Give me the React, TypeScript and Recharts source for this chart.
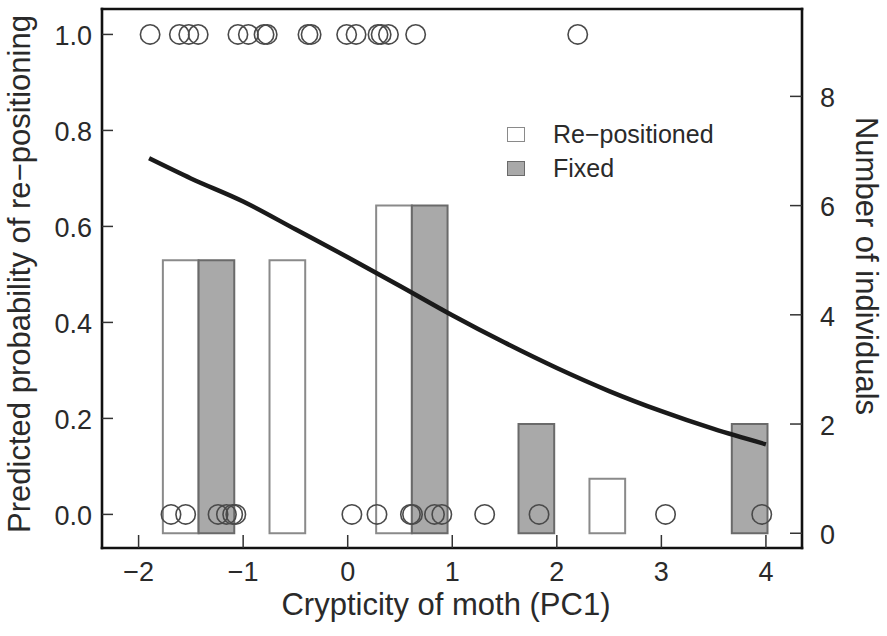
import React from 'react';
import { ComposedChart, XAxis, YAxis, Bar, Line, Scatter, Legend } from 'recharts';

// ---- data ----
const binCenters = [-1.43, -0.41, 0.61, 1.63, 2.65, 3.67];
const repositionedCounts = [5, 5, 6, 0, 1, 0];
const fixedCounts = [5, 0, 6, 2, 0, 2];

// individual moths: PC1 of re-positioned (probability 1) and fixed (probability 0)
const repositionedPC1 = [-1.89, -1.61, -1.52, -1.43, -1.05, -0.95, -0.8, -0.77, -0.38, -0.35, -0.01, 0.08, 0.29, 0.32, 0.39, 0.65, 2.2];
const fixedPC1 = [-1.69, -1.55, -1.24, -1.16, -1.1, -1.07, 0.04, 0.28, 0.6, 0.62, 0.83, 0.9, 1.31, 1.83, 3.04, 3.96];

// fitted logistic curve
const curveX = [-1.9, -1.5, -1.0, -0.5, 0, 0.5, 1.0, 1.5, 2.0, 2.5, 3.0, 3.5, 4.0];
const curveP = [0.742, 0.7, 0.652, 0.594, 0.536, 0.476, 0.415, 0.358, 0.305, 0.257, 0.215, 0.178, 0.146];

const xTicks = [-2, -1, 0, 1, 2, 3, 4];
const probTicks = [0, 0.2, 0.4, 0.6, 0.8, 1.0];
const countTicks = [0, 2, 4, 6, 8];

const seriesNames = ['Re\u2212positioned', 'Fixed'];
const xTitle = 'Crypticity of moth (PC1)';
const leftTitle = 'Predicted probability of re\u2212positioning';
const rightTitle = 'Number of individuals';

// ---- tables built from the arrays ----
const binData = binCenters.map((x, i) => ({ x, re: repositionedCounts[i], fixed: fixedCounts[i] }));
const topPoints = repositionedPC1.map((x) => ({ x, y: 1 }));
const bottomPoints = fixedPC1.map((x) => ({ x, y: 0 }));
const curveData = curveX.map((x, i) => ({ x, p: curveP[i] }));

const FONT = '"Liberation Sans", Arial, Helvetica, sans-serif';
const TEXT = '#2a2a2a';
const FRAME = '#111';
const TICK_FS = 27;
const TITLE_FS = 31;

const xDomain: [number, number] = [-2.35, 4.345];
const probDomain: [number, number] = [-0.07, 1.053];
const countDomain: [number, number] = [-0.27, 9.6];

const fmtX = (v: number) => (v < 0 ? '\u2212' + Math.abs(v) : String(v));

const LeftTick = (props: any) => {
  const { x, y, payload } = props;
  return (
    <g>
      <line x1={x + 10} x2={x + 21} y1={y} y2={y} stroke="#333" strokeWidth={1.5} />
      <text x={x} y={y} dy="0.4em" textAnchor="end" fontSize={TICK_FS} fill={TEXT} fontFamily={FONT}>
        {Number(payload.value).toFixed(1)}
      </text>
    </g>
  );
};

const RightTick = (props: any) => {
  const { x, y, payload } = props;
  return (
    <g>
      <line x1={x - 18} x2={x - 30} y1={y} y2={y} stroke="#333" strokeWidth={1.5} />
      <text x={x} y={y} dy="0.4em" textAnchor="start" fontSize={TICK_FS} fill={TEXT} fontFamily={FONT}>
        {String(payload.value)}
      </text>
    </g>
  );
};

const BottomTick = (props: any) => {
  const { x, y, payload } = props;
  return (
    <g>
      <line x1={x} x2={x} y1={y - 14} y2={y - 27} stroke="#333" strokeWidth={1.5} />
      <text x={x} y={y} dy="0.72em" textAnchor="middle" fontSize={TICK_FS} fill={TEXT} fontFamily={FONT}>
        {fmtX(Number(payload.value))}
      </text>
    </g>
  );
};

const circleShape = (props: any) => (
  <circle cx={props.cx} cy={props.cy} r={9.7} fill="none" stroke="#4a4a4a" strokeWidth={1.6} />
);

const legendStyles = [
  { fill: '#ffffff', stroke: '#8a8a8a' },
  { fill: '#a9a9a9', stroke: '#6a6a6a' },
];

const renderLegend = () => (
  <div style={{ fontFamily: FONT, fontSize: 25, color: TEXT }}>
    {seriesNames.map((name, i) => (
      <div key={name} style={{ display: 'flex', alignItems: 'center', height: 34 }}>
        <span
          style={{
            display: 'inline-block',
            width: 18,
            height: 15,
            boxSizing: 'border-box',
            background: legendStyles[i].fill,
            border: `1.5px solid ${legendStyles[i].stroke}`,
            marginRight: 28,
          }}
        />
        <span>{name}</span>
      </div>
    ))}
  </div>
);

const XTitle = () => (
  <text x={446} y={615} textAnchor="middle" fontSize={TITLE_FS} fill={TEXT} fontFamily={FONT}>
    {xTitle}
  </text>
);
const LeftTitle = () => (
  <text x={30} y={274} transform="rotate(-90, 30, 274)" textAnchor="middle" fontSize={TITLE_FS} fill={TEXT} fontFamily={FONT}>
    {leftTitle}
  </text>
);
const RightTitle = () => (
  <text x={856} y={266} transform="rotate(90, 856, 266)" textAnchor="middle" fontSize={TITLE_FS} fill={TEXT} fontFamily={FONT}>
    {rightTitle}
  </text>
);

const axisLine = { stroke: FRAME, strokeWidth: 2.6, strokeLinecap: 'square' as const };

export default function App() {
  return (
    <div style={{ position: 'absolute', left: 0, top: 0, width: 887, height: 636, background: '#fff' }}>
      <ComposedChart
        width={887}
        height={636}
        data={binData}
        margin={{ top: 8, right: 25, bottom: 48, left: 42 }}
        barGap={0}
        style={{ fontFamily: FONT }}
      >
        <XAxis xAxisId="bars" dataKey="x" type="number" domain={xDomain} allowDataOverflow hide height={0} />
        <XAxis
          xAxisId="main"
          dataKey="x"
          type="number"
          domain={xDomain}
          allowDataOverflow
          ticks={xTicks}
          interval={0}
          height={40}
          tickSize={0}
          tickMargin={14}
          tickLine={false}
          axisLine={axisLine}
          tick={BottomTick}
          label={{ content: XTitle }}
        />
        <XAxis
          xAxisId="top"
          orientation="top"
          type="number"
          domain={xDomain}
          allowDataOverflow
          height={1}
          tick={false}
          tickLine={false}
          axisLine={axisLine}
        />
        <YAxis
          yAxisId="left"
          type="number"
          domain={probDomain}
          allowDataOverflow
          ticks={probTicks}
          interval={0}
          width={60}
          tickSize={0}
          tickMargin={10}
          tickLine={false}
          axisLine={axisLine}
          tick={LeftTick}
          label={{ content: LeftTitle }}
        />
        <YAxis
          yAxisId="right"
          orientation="right"
          type="number"
          domain={countDomain}
          allowDataOverflow
          ticks={countTicks}
          interval={0}
          width={60}
          tickSize={0}
          tickMargin={18}
          tickLine={false}
          axisLine={axisLine}
          tick={RightTick}
          label={{ content: RightTitle }}
        />
        <Legend
          layout="vertical"
          align="center"
          verticalAlign="middle"
          content={renderLegend}
          wrapperStyle={{ left: 507, top: 117, width: 260, height: 68 }}
        />
        <Bar
          xAxisId="bars"
          yAxisId="right"
          dataKey="re"
          name={seriesNames[0]}
          barSize={35.7}
          fill={legendStyles[0].fill}
          stroke={legendStyles[0].stroke}
          strokeWidth={2}
          isAnimationActive={false}
        />
        <Bar
          xAxisId="bars"
          yAxisId="right"
          dataKey="fixed"
          name={seriesNames[1]}
          barSize={35.7}
          fill={legendStyles[1].fill}
          stroke={legendStyles[1].stroke}
          strokeWidth={2}
          isAnimationActive={false}
        />
        <Line
          xAxisId="main"
          yAxisId="left"
          data={curveData}
          dataKey="p"
          type="monotone"
          stroke="#1a1a1a"
          strokeWidth={4.5}
          dot={false}
          activeDot={false}
          legendType="none"
          isAnimationActive={false}
        />
        <Scatter
          xAxisId="main"
          yAxisId="left"
          data={topPoints}
          dataKey="y"
          shape={circleShape}
          legendType="none"
          isAnimationActive={false}
        />
        <Scatter
          xAxisId="main"
          yAxisId="left"
          data={bottomPoints}
          dataKey="y"
          shape={circleShape}
          legendType="none"
          isAnimationActive={false}
        />
      </ComposedChart>
    </div>
  );
}
